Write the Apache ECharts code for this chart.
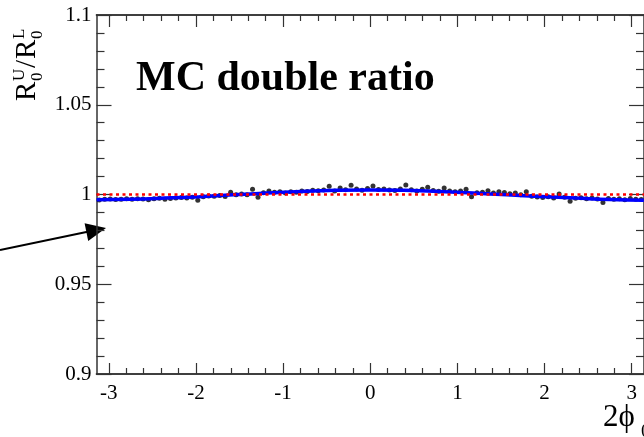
<!DOCTYPE html>
<html>
<head>
<meta charset="utf-8">
<script src="https://cdn.jsdelivr.net/npm/echarts@6/dist/echarts.min.js"></script>
<style>html,body{margin:0;padding:0;background:#fff}#c{width:644px;height:437px}</style>
</head>
<body>
<div id="c"></div>
<script>
// ---- data ----
var xMajorTicks = [-3, -2, -1, 0, 1, 2, 3];
var yRange = [0.9, 1.1];
var nBins = 100;
var ratioValues = [
  0.9970, 0.9973, 0.9975, 0.9972, 0.9974, 0.9976, 0.9973, 0.9977, 0.9975, 0.9971,
  0.9976, 0.9979, 0.9974, 0.9978, 0.9981, 0.9983, 0.9980, 0.9985, 0.9968, 0.9988,
  0.9992, 0.9990, 0.9994, 0.9989, 1.0012, 0.9998, 1.0003, 0.9999, 1.0029, 0.9984,
  1.0010, 1.0019, 1.0012, 1.0015, 1.0009, 1.0016, 1.0013, 1.0020, 1.0017, 1.0023,
  1.0021, 1.0025, 1.0046, 1.0020, 1.0036, 1.0027, 1.0051, 1.0030, 1.0024, 1.0033,
  1.0047, 1.0028, 1.0031, 1.0025, 1.0022, 1.0030, 1.0053, 1.0026, 1.0020, 1.0029,
  1.0040, 1.0022, 1.0018, 1.0036, 1.0020, 1.0016, 1.0019, 1.0029, 0.9988, 1.0010,
  1.0012, 1.0021, 1.0008, 1.0016, 1.0011, 1.0004, 1.0009, 0.9999, 1.0016, 0.9990,
  0.9986, 0.9983, 0.9988, 0.9980, 1.0003, 0.9984, 0.9962, 0.9979, 0.9982, 0.9977,
  0.9980, 0.9975, 0.9955, 0.9978, 0.9973, 0.9976, 0.9971, 0.9978, 0.9974, 0.9972
];
var fitX = [-3.14, -2.75, -2.36, -1.96, -1.57, -1.18, -0.79, -0.39, 0, 0.39, 0.79, 1.18, 1.57, 1.96, 2.36, 2.75, 3.14];
var fitY = [0.9971, 0.9974, 0.9980, 0.9988, 0.9998, 1.0008, 1.0017, 1.0023, 1.0025, 1.0023, 1.0017, 1.0008, 0.9998, 0.9989, 0.9980, 0.9972, 0.9968];
var refLevel = 1.0;

// ---- build ----
var PI = Math.PI;
var binW = 2 * PI / nBins;
var points = ratioValues.map(function (v, i) { return [-PI + (i + 0.5) * binW, v]; });
var fitLine = fitX.map(function (x, i) { return [x, fitY[i]]; });
var xMinorTicks = [];
for (var k = -15; k <= 15; k++) { if (k % 5 !== 0) xMinorTicks.push(k / 5); }

var serif = 'Liberation Serif';
var axisCol = '#333';
function xAx(pos, vals, len, labels) {
  return {
    type: 'value', position: pos, min: -PI, max: PI,
    axisLine: { show: true, onZero: false, lineStyle: { color: axisCol, width: 1.5 } },
    axisTick: { show: true, inside: true, length: len, customValues: vals, lineStyle: { color: axisCol, width: 1.2 } },
    axisLabel: labels ? { show: true, customValues: vals, margin: 9, color: '#000', fontFamily: serif, fontSize: 21 } : { show: false },
    splitLine: { show: false }
  };
}
function yAx(pos, labels) {
  return {
    type: 'value', position: pos, min: yRange[0], max: yRange[1], interval: 0.05,
    axisLine: { show: true, onZero: false, lineStyle: { color: axisCol, width: 1.5 } },
    axisTick: { show: true, inside: true, length: 15, lineStyle: { color: axisCol, width: 1.2 } },
    minorTick: { show: true, splitNumber: 5, length: 8, lineStyle: { color: axisCol, width: 1.2 } },
    axisLabel: labels ? { show: true, margin: 5, color: '#000', fontFamily: serif, fontSize: 21 } : { show: false },
    splitLine: { show: false }, minorSplitLine: { show: false }
  };
}

var chart = echarts.init(document.getElementById('c'), null, { renderer: 'canvas' });
var option = {
  animation: false,
  backgroundColor: '#fff',
  title: {
    text: 'MC double ratio', left: 131, top: 53,
    textStyle: { fontFamily: serif, fontWeight: 'bold', fontSize: 42, color: '#000' }
  },
  grid: { left: 96.5, top: 15, width: 553, height: 359, containLabel: false },
  xAxis: [
    xAx('bottom', xMajorTicks, 11, true),
    xAx('bottom', xMinorTicks, 6, false),
    xAx('top', xMajorTicks, 12, false),
    xAx('top', xMinorTicks, 6, false)
  ],
  yAxis: [yAx('left', true), yAx('right', false)],
  series: [
    {
      type: 'scatter', data: points, symbol: 'circle', symbolSize: 5,
      itemStyle: { color: '#000' }, z: 2
    },
    {
      type: 'line', data: fitLine, smooth: 0.5, showSymbol: false, symbol: 'none',
      lineStyle: { color: '#0000ff', width: 3.5 }, z: 3
    },
    {
      type: 'line', data: [[-PI, refLevel], [PI, refLevel]], showSymbol: false, symbol: 'none',
      lineStyle: { color: '#ff0000', width: 2.5, type: [3, 3.5] }, z: 4
    }
  ],
  graphic: [
    {
      type: 'group', x: 42, y: 101, rotation: Math.PI / 2,
      children: [
        { type: 'text', x: 0, y: 0, style: { text: 'R', fontFamily: serif, fontSize: 29, fill: '#000', textVerticalAlign: 'bottom' } },
        { type: 'text', x: 20, y: 4, style: { text: '0', fontFamily: serif, fontSize: 17, fill: '#000', textVerticalAlign: 'bottom' } },
        { type: 'text', x: 20, y: -14, style: { text: 'U', fontFamily: serif, fontSize: 17, fill: '#000', textVerticalAlign: 'bottom' } },
        { type: 'text', x: 33, y: 0, style: { text: '/', fontFamily: serif, fontSize: 29, fill: '#000', textVerticalAlign: 'bottom' } },
        { type: 'text', x: 42, y: 0, style: { text: 'R', fontFamily: serif, fontSize: 29, fill: '#000', textVerticalAlign: 'bottom' } },
        { type: 'text', x: 62, y: 4, style: { text: '0', fontFamily: serif, fontSize: 17, fill: '#000', textVerticalAlign: 'bottom' } },
        { type: 'text', x: 62, y: -14, style: { text: 'L', fontFamily: serif, fontSize: 17, fill: '#000', textVerticalAlign: 'bottom' } }
      ]
    },
    { type: 'text', x: 603, y: 433, style: { text: '2\u03D5', fontFamily: serif, fontSize: 31, fill: '#000', textVerticalAlign: 'bottom' } },
    { type: 'text', x: 641, y: 442, style: { text: '0', fontFamily: serif, fontSize: 19, fill: '#000', textVerticalAlign: 'bottom' } },
    { type: 'line', shape: { x1: 0, y1: 250, x2: 90, y2: 231.3 }, style: { stroke: '#000', lineWidth: 2 } },
    { type: 'polygon', shape: { points: [[106, 228], [88.2, 240.9], [84.6, 223.3]] }, style: { fill: '#000' } }
  ]
};
chart.setOption(option);
</script>
</body>
</html>
